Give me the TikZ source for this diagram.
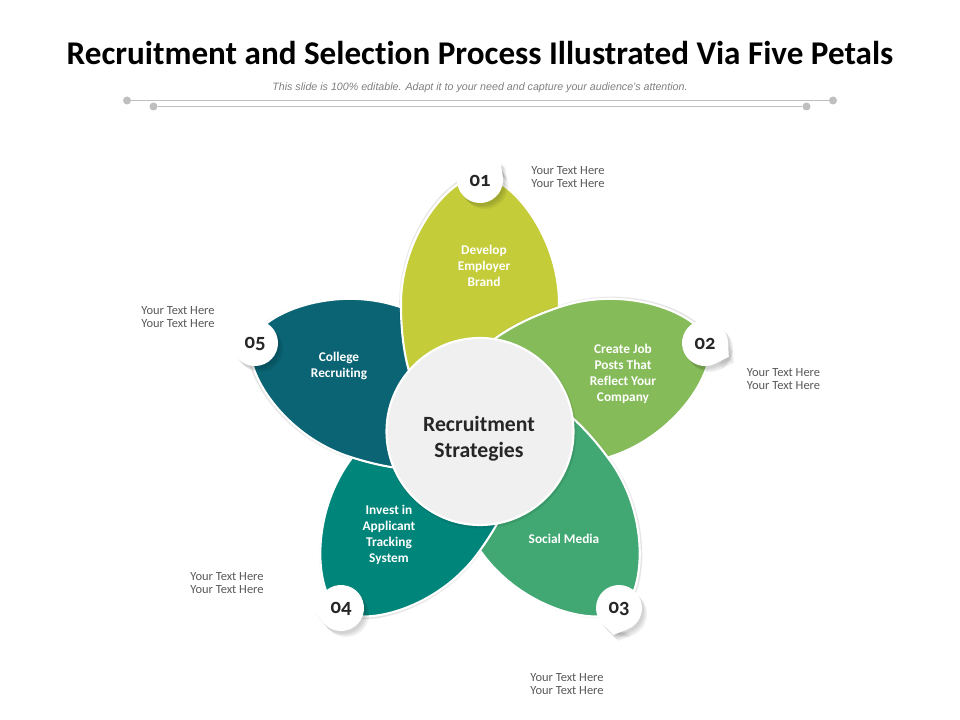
\documentclass[tikz,border=0pt]{standalone}
\usepackage{fontspec}
\setmainfont{Carlito}[Ligatures=NoCommon]
\newfontfamily\numfont[Numbers=OldStyle]{Carlito}
\newfontfamily\subfont{Liberation Sans}
\definecolor{pA}{HTML}{C4CC3A}
\definecolor{pB}{HTML}{85BB59}
\definecolor{pC}{HTML}{41A873}
\definecolor{pD}{HTML}{00857B}
\definecolor{pE}{HTML}{0A6474}
\definecolor{rulegray}{HTML}{BFBFBF}
\definecolor{hubfill}{HTML}{F0F0F0}
\definecolor{inktext}{HTML}{262626}
\definecolor{sidetext}{HTML}{595959}
\newcommand{\PetalPath}{(0,-240) .. controls (-30,-240) and (-80,-180) .. (-79,-110) .. controls (-79,-85) and (-76,-55) .. (-66,-30) .. controls (-55,-5) and (-25,10) .. (0,12) .. controls (25,10) and (55,-5) .. (66,-30) .. controls (76,-55) and (79,-85) .. (79,-110) .. controls (80,-180) and (30,-240) .. (0,-240) -- cycle}
\newcommand{\PetalShadow}[1]{%
  \begin{scope}[shift={(480,416)},rotate=-#1]
    \fill[black,opacity=.05] [shift={(-1,-3)}] \PetalPath;
    \fill[black,opacity=.05] [shift={(-2,-1.5)}] \PetalPath;
  \end{scope}}
\newcommand{\PetalBody}[2]{%
  \begin{scope}[shift={(480,416)},rotate=-#1]
    \filldraw[fill=#2,draw=white,line width=1.6pt] \PetalPath;
  \end{scope}}
\newcommand{\BadgeShape}[2]{%
  \begin{scope}[shift={#1},rotate=-#2]
    \fill (-12,-19.6) -- (0,-27.5) -- (12,-19.6) -- cycle;
    \fill (0,0) circle (23);
  \end{scope}}
\tikzset{
  petaltext/.style={text=white,font=\fontsize{10}{12}\selectfont\bfseries,align=center,inner sep=0pt},
  sidelabel/.style={text=sidetext,font=\fontsize{9.35}{9.75}\selectfont,align=center,inner sep=0pt},
  badgenum/.style={inner sep=0pt,text=inktext,font=\fontsize{15.5}{15.5}\numfont\bfseries},
  ruledot/.style={circle,fill=rulegray,minimum size=6pt,inner sep=0pt},
  rulestroke/.style={draw=rulegray,line width=.75pt}
}
\begin{document}
\begin{tikzpicture}[x=0.75pt,y=-0.75pt]
\useasboundingbox (0,0) rectangle (960,720);
\fill[white] (0,0) rectangle (960,720);
\node[text=black,font=\fontsize{24.85}{28}\selectfont\bfseries,inner sep=0pt] (title) at (480,53) {Recruitment and Selection Process Illustrated Via Five Petals};
\node[text=gray,font=\fontsize{8}{9}\subfont\itshape,inner sep=0pt] (subtitle) at (480,88) {This slide is 100\% editable. Adapt it to your need and capture your audience’s attention.};
\node[ruledot] (r1a) at (127,100.5) {};
\node[ruledot] (r1b) at (833,100.5) {};
\node[ruledot] (r2a) at (153.5,106.5) {};
\node[ruledot] (r2b) at (806.5,106.5) {};
\draw[rulestroke] (r1a) -- (r1b);
\draw[rulestroke] (r2a) -- (r2b);

\PetalShadow{0}\PetalBody{0}{pA}
\PetalShadow{72}\PetalBody{72}{pB}
\PetalShadow{144}\PetalBody{144}{pC}
\PetalShadow{216}\PetalBody{216}{pD}
\PetalShadow{288}\PetalBody{288}{pE}
% petal 1 lies over petal 5: repaint its left half
\begin{scope}
  \clip (300,301) rectangle (470,420);
  \PetalShadow{0}
\end{scope}
\begin{scope}
  \clip (300,120) rectangle (480,420);
  \PetalBody{0}{pA}
\end{scope}

\fill[black,opacity=.08] (481,433) circle (95.5);
\node[circle,fill=hubfill,draw=white,line width=1.6pt,minimum size=187*0.75pt,inner sep=0pt] (hub) at (480,431.5) {};
\node[text=inktext,align=center,inner sep=0pt,font=\fontsize{16.3}{19.5}\selectfont\bfseries] (hubtext) at (479,439) {Recruitment\\Strategies};

\foreach \bx/\by/\ba in {480/180/48,705/343/120,619/608/192,341/608/264,255/343/336}{
  \begin{scope}[black,opacity=.06]
    \BadgeShape{(\bx+5,\by+6)}{\ba}
    \BadgeShape{(\bx+3.5,\by+4.5)}{\ba}
    \BadgeShape{(\bx+2,\by+3)}{\ba}
  \end{scope}
  \begin{scope}[white]
    \BadgeShape{(\bx,\by)}{\ba}
  \end{scope}
}
\node[badgenum] (b1) at (480,181) {01};
\node[badgenum] (b2) at (705,344) {02};
\node[badgenum] (b3) at (619,609) {03};
\node[badgenum] (b4) at (341,609) {04};
\node[badgenum] (b5) at (255,344) {05};

\node[petaltext] (t1) at (484,265.5) {Develop\\Employer\\Brand};
\node[petaltext] (t2) at (623,373.5) {Create Job\\Posts That\\Reflect Your\\Company};
\node[petaltext] (t3) at (564,539) {Social Media};
\node[petaltext] (t4) at (389,534.5) {Invest in\\Applicant\\Tracking\\System};
\node[petaltext] (t5) at (339,365.5) {College\\Recruiting};

\node[sidelabel] (s1) at (568,177) {Your Text Here\\Your Text Here};
\node[sidelabel] (s2) at (783.5,379) {Your Text Here\\Your Text Here};
\node[sidelabel] (s3) at (567,684) {Your Text Here\\Your Text Here};
\node[sidelabel] (s4) at (227,583) {Your Text Here\\Your Text Here};
\node[sidelabel] (s5) at (178,317) {Your Text Here\\Your Text Here};
\end{tikzpicture}
\end{document}
